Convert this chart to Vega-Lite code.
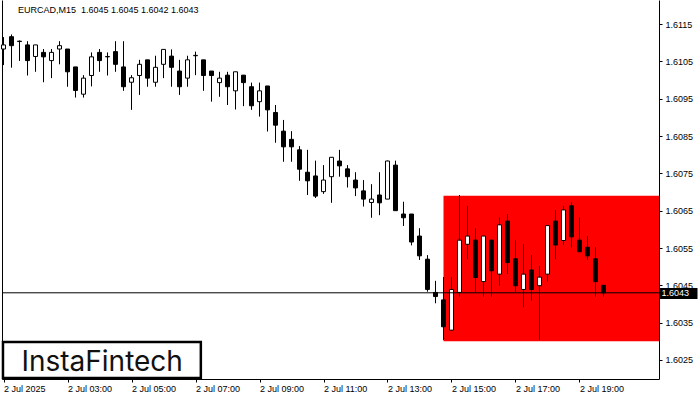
{
  "$schema": "https://vega.github.io/schema/vega-lite/v6.json",
  "width": 657,
  "height": 379,
  "autosize": {"type": "none"},
  "padding": {"left": 2, "top": 0, "right": 41, "bottom": 21},
  "background": "white",
  "config": {"view": {"stroke": null}, "font": "Liberation Sans", "scale": {"continuousPadding": 0}},
  "title": {
    "text": "EURCAD,M15 \u00a01.6045 1.6045 1.6042 1.6043",
    "anchor": "start",
    "frame": "group",
    "orient": "top",
    "offset": -15,
    "dx": 16,
    "fontSize": 9,
    "fontWeight": "normal",
    "font": "Liberation Sans",
    "color": "black"
  },
  "datasets": {
    "candles": [
      {"t": "2025-07-02T01:00", "o": 1.61083, "h": 1.61115, "l": 1.61040, "c": 1.61094},
      {"t": "2025-07-02T01:15", "o": 1.61116, "h": 1.61122, "l": 1.61033, "c": 1.61092},
      {"t": "2025-07-02T01:30", "o": 1.61104, "h": 1.61106, "l": 1.61051, "c": 1.61103},
      {"t": "2025-07-02T01:45", "o": 1.61094, "h": 1.61104, "l": 1.61012, "c": 1.61052},
      {"t": "2025-07-02T02:00", "o": 1.61063, "h": 1.61094, "l": 1.61022, "c": 1.61094},
      {"t": "2025-07-02T02:15", "o": 1.61074, "h": 1.61083, "l": 1.60994, "c": 1.61062},
      {"t": "2025-07-02T02:30", "o": 1.61052, "h": 1.61083, "l": 1.61005, "c": 1.61074},
      {"t": "2025-07-02T02:45", "o": 1.61083, "h": 1.61104, "l": 1.61042, "c": 1.61092},
      {"t": "2025-07-02T03:00", "o": 1.61083, "h": 1.61083, "l": 1.60982, "c": 1.61022},
      {"t": "2025-07-02T03:15", "o": 1.61035, "h": 1.61035, "l": 1.60953, "c": 1.60972},
      {"t": "2025-07-02T03:30", "o": 1.60962, "h": 1.61013, "l": 1.60953, "c": 1.61005},
      {"t": "2025-07-02T03:45", "o": 1.61012, "h": 1.61074, "l": 1.60983, "c": 1.61062},
      {"t": "2025-07-02T04:00", "o": 1.61074, "h": 1.61083, "l": 1.61022, "c": 1.61052},
      {"t": "2025-07-02T04:15", "o": 1.61062, "h": 1.61074, "l": 1.61012, "c": 1.61063},
      {"t": "2025-07-02T04:30", "o": 1.61076, "h": 1.61104, "l": 1.61022, "c": 1.61042},
      {"t": "2025-07-02T04:45", "o": 1.61035, "h": 1.61104, "l": 1.60971, "c": 1.60982},
      {"t": "2025-07-02T05:00", "o": 1.60994, "h": 1.61013, "l": 1.60920, "c": 1.61006},
      {"t": "2025-07-02T05:15", "o": 1.61012, "h": 1.61054, "l": 1.60960, "c": 1.61042},
      {"t": "2025-07-02T05:30", "o": 1.61054, "h": 1.61054, "l": 1.60982, "c": 1.61005},
      {"t": "2025-07-02T05:45", "o": 1.60994, "h": 1.61065, "l": 1.60982, "c": 1.61034},
      {"t": "2025-07-02T06:00", "o": 1.61042, "h": 1.61082, "l": 1.61005, "c": 1.61082},
      {"t": "2025-07-02T06:15", "o": 1.61064, "h": 1.61082, "l": 1.60982, "c": 1.61034},
      {"t": "2025-07-02T06:30", "o": 1.61024, "h": 1.61054, "l": 1.60960, "c": 1.60982},
      {"t": "2025-07-02T06:45", "o": 1.61005, "h": 1.61065, "l": 1.60982, "c": 1.61054},
      {"t": "2025-07-02T07:00", "o": 1.61065, "h": 1.61076, "l": 1.61013, "c": 1.61066},
      {"t": "2025-07-02T07:15", "o": 1.61054, "h": 1.61054, "l": 1.60971, "c": 1.61012},
      {"t": "2025-07-02T07:30", "o": 1.61024, "h": 1.61024, "l": 1.60942, "c": 1.61012},
      {"t": "2025-07-02T07:45", "o": 1.60993, "h": 1.61022, "l": 1.60955, "c": 1.61005},
      {"t": "2025-07-02T08:00", "o": 1.61013, "h": 1.61022, "l": 1.60933, "c": 1.60982},
      {"t": "2025-07-02T08:15", "o": 1.60971, "h": 1.61022, "l": 1.60921, "c": 1.61022},
      {"t": "2025-07-02T08:30", "o": 1.61013, "h": 1.61013, "l": 1.60930, "c": 1.60993},
      {"t": "2025-07-02T08:45", "o": 1.60982, "h": 1.60993, "l": 1.60920, "c": 1.60931},
      {"t": "2025-07-02T09:00", "o": 1.60942, "h": 1.60993, "l": 1.60902, "c": 1.60971},
      {"t": "2025-07-02T09:15", "o": 1.60984, "h": 1.60984, "l": 1.60862, "c": 1.60920},
      {"t": "2025-07-02T09:30", "o": 1.60913, "h": 1.60933, "l": 1.60832, "c": 1.60879},
      {"t": "2025-07-02T09:45", "o": 1.60863, "h": 1.60893, "l": 1.60781, "c": 1.60821},
      {"t": "2025-07-02T10:00", "o": 1.60841, "h": 1.60863, "l": 1.60781, "c": 1.60821},
      {"t": "2025-07-02T10:15", "o": 1.60813, "h": 1.60823, "l": 1.60730, "c": 1.60761},
      {"t": "2025-07-02T10:30", "o": 1.60753, "h": 1.60813, "l": 1.60692, "c": 1.60730},
      {"t": "2025-07-02T10:45", "o": 1.60743, "h": 1.60784, "l": 1.60684, "c": 1.60689},
      {"t": "2025-07-02T11:00", "o": 1.60701, "h": 1.60772, "l": 1.60695, "c": 1.60732},
      {"t": "2025-07-02T11:15", "o": 1.60741, "h": 1.60793, "l": 1.60671, "c": 1.60793},
      {"t": "2025-07-02T11:30", "o": 1.60783, "h": 1.60813, "l": 1.60741, "c": 1.60770},
      {"t": "2025-07-02T11:45", "o": 1.60762, "h": 1.60772, "l": 1.60712, "c": 1.60741},
      {"t": "2025-07-02T12:00", "o": 1.60732, "h": 1.60753, "l": 1.60689, "c": 1.60711},
      {"t": "2025-07-02T12:15", "o": 1.60703, "h": 1.60732, "l": 1.60661, "c": 1.60681},
      {"t": "2025-07-02T12:30", "o": 1.60672, "h": 1.60721, "l": 1.60631, "c": 1.60681},
      {"t": "2025-07-02T12:45", "o": 1.60692, "h": 1.60753, "l": 1.60638, "c": 1.60671},
      {"t": "2025-07-02T13:00", "o": 1.60681, "h": 1.60784, "l": 1.60681, "c": 1.60783},
      {"t": "2025-07-02T13:15", "o": 1.60772, "h": 1.60784, "l": 1.60650, "c": 1.60650},
      {"t": "2025-07-02T13:30", "o": 1.60641, "h": 1.60674, "l": 1.60609, "c": 1.60631},
      {"t": "2025-07-02T13:45", "o": 1.60641, "h": 1.60641, "l": 1.60557, "c": 1.60566},
      {"t": "2025-07-02T14:00", "o": 1.60582, "h": 1.60603, "l": 1.60518, "c": 1.60529},
      {"t": "2025-07-02T14:15", "o": 1.60520, "h": 1.60531, "l": 1.60433, "c": 1.60439},
      {"t": "2025-07-02T14:30", "o": 1.60431, "h": 1.60462, "l": 1.60402, "c": 1.60420},
      {"t": "2025-07-02T14:45", "o": 1.60411, "h": 1.60472, "l": 1.60304, "c": 1.60339},
      {"t": "2025-07-02T15:00", "o": 1.60330, "h": 1.60472, "l": 1.60330, "c": 1.60439},
      {"t": "2025-07-02T15:15", "o": 1.60431, "h": 1.60692, "l": 1.60420, "c": 1.60571},
      {"t": "2025-07-02T15:30", "o": 1.60560, "h": 1.60663, "l": 1.60520, "c": 1.60582},
      {"t": "2025-07-02T15:45", "o": 1.60571, "h": 1.60603, "l": 1.60431, "c": 1.60471},
      {"t": "2025-07-02T16:00", "o": 1.60460, "h": 1.60582, "l": 1.60420, "c": 1.60582},
      {"t": "2025-07-02T16:15", "o": 1.60571, "h": 1.60571, "l": 1.60420, "c": 1.60489},
      {"t": "2025-07-02T16:30", "o": 1.60480, "h": 1.60632, "l": 1.60449, "c": 1.60612},
      {"t": "2025-07-02T16:45", "o": 1.60622, "h": 1.60641, "l": 1.60480, "c": 1.60511},
      {"t": "2025-07-02T17:00", "o": 1.60521, "h": 1.60571, "l": 1.60431, "c": 1.60449},
      {"t": "2025-07-02T17:15", "o": 1.60439, "h": 1.60561, "l": 1.60391, "c": 1.60480},
      {"t": "2025-07-02T17:30", "o": 1.60491, "h": 1.60531, "l": 1.60409, "c": 1.60439},
      {"t": "2025-07-02T17:45", "o": 1.60449, "h": 1.60502, "l": 1.60304, "c": 1.60472},
      {"t": "2025-07-02T18:00", "o": 1.60480, "h": 1.60610, "l": 1.60460, "c": 1.60610},
      {"t": "2025-07-02T18:15", "o": 1.60622, "h": 1.60652, "l": 1.60520, "c": 1.60558},
      {"t": "2025-07-02T18:30", "o": 1.60570, "h": 1.60663, "l": 1.60558, "c": 1.60652},
      {"t": "2025-07-02T18:45", "o": 1.60663, "h": 1.60673, "l": 1.60551, "c": 1.60580},
      {"t": "2025-07-02T19:00", "o": 1.60571, "h": 1.60632, "l": 1.60540, "c": 1.60540},
      {"t": "2025-07-02T19:15", "o": 1.60552, "h": 1.60582, "l": 1.60518, "c": 1.60529},
      {"t": "2025-07-02T19:30", "o": 1.60521, "h": 1.60552, "l": 1.60420, "c": 1.60460},
      {"t": "2025-07-02T19:45", "o": 1.60450, "h": 1.60450, "l": 1.60420, "c": 1.60430}
    ],
    "zone": [{"start": "2025-07-02T14:45", "end": "2025-07-02T23:00", "high": 1.6069, "low": 1.6030}],
    "bid": [{"price": 1.6043}],
    "logo": [{"name": "InstaFintech"}]
  },
  "layer": [
    {
      "data": {"name": "zone"},
      "mark": {"type": "rect", "color": "#ff0000", "clip": true},
      "encoding": {
        "x": {"field": "start", "type": "temporal",
          "scale": {"nice": false, "padding": 0, "domain": [{"year": 2025, "month": 7, "date": 2, "hours": 0, "minutes": 57, "seconds": 11}, {"year": 2025, "month": 7, "date": 2, "hours": 21, "minutes": 29, "seconds": 4}]},
          "axis": {
            "orient": "bottom", "title": null, "grid": false,
            "values": [
              {"year": 2025, "month": 7, "date": 2, "hours": 1},
              {"year": 2025, "month": 7, "date": 2, "hours": 3},
              {"year": 2025, "month": 7, "date": 2, "hours": 5},
              {"year": 2025, "month": 7, "date": 2, "hours": 7},
              {"year": 2025, "month": 7, "date": 2, "hours": 9},
              {"year": 2025, "month": 7, "date": 2, "hours": 11},
              {"year": 2025, "month": 7, "date": 2, "hours": 13},
              {"year": 2025, "month": 7, "date": 2, "hours": 15},
              {"year": 2025, "month": 7, "date": 2, "hours": 17},
              {"year": 2025, "month": 7, "date": 2, "hours": 19}
            ],
            "labelExpr": "hours(datum.value) == 1 ? '2 Jul 2025' : timeFormat(datum.value, '%-d %b %H:%M')",
            "labelAlign": "left", "labelBaseline": "top", "labelPadding": 2, "tickSize": 3,
            "labelFontSize": 9, "labelFont": "Liberation Sans", "labelColor": "black",
            "domainColor": "black", "tickColor": "black", "domainWidth": 1, "tickWidth": 1,
            "labelOverlap": false, "labelBound": false, "labelFlush": false
          }
        },
        "x2": {"field": "end"},
        "y": {"field": "high", "type": "quantitative",
          "scale": {"domain": [1.601991, 1.612143], "nice": false, "zero": false},
          "axis": {"orient": "left", "labels": false, "ticks": false, "domain": true, "domainColor": "black", "grid": false, "title": null}
        },
        "y2": {"field": "low"}
      }
    },
    {
      "data": {"name": "candles"},
      "mark": {"type": "rule", "color": "black", "strokeWidth": 1},
      "encoding": {
        "x": {"field": "t", "type": "temporal",
          "scale": {"nice": false, "padding": 0, "domain": [{"year": 2025, "month": 7, "date": 2, "hours": 0, "minutes": 57, "seconds": 11}, {"year": 2025, "month": 7, "date": 2, "hours": 21, "minutes": 29, "seconds": 4}]}},
        "y": {"field": "l", "type": "quantitative",
          "scale": {"domain": [1.601991, 1.612143], "nice": false, "zero": false},
          "axis": {
            "orient": "right", "title": null, "grid": false,
            "values": [1.6025, 1.6035, 1.6045, 1.6055, 1.6065, 1.6075, 1.6085, 1.6095, 1.6105, 1.6115],
            "format": ".4f", "labelAlign": "left", "labelBaseline": "middle",
            "tickSize": 3, "labelPadding": 3, "labelFontSize": 9, "labelFont": "Liberation Sans",
            "labelColor": "black", "domainColor": "black", "tickColor": "black",
            "labelOverlap": false, "labelBound": false, "labelFlush": false
          }
        },
        "y2": {"field": "h"}
      }
    },
    {
      "data": {"name": "candles"},
      "mark": {"type": "bar", "size": 4, "stroke": "black", "strokeWidth": 1},
      "encoding": {
        "x": {"field": "t", "type": "temporal",
          "scale": {"nice": false, "padding": 0, "domain": [{"year": 2025, "month": 7, "date": 2, "hours": 0, "minutes": 57, "seconds": 11}, {"year": 2025, "month": 7, "date": 2, "hours": 21, "minutes": 29, "seconds": 4}]}},
        "y": {"field": "o", "type": "quantitative",
          "scale": {"domain": [1.601991, 1.612143], "nice": false, "zero": false}, "axis": null},
        "y2": {"field": "c"},
        "fill": {"condition": {"test": "datum.c >= datum.o", "value": "white"}, "value": "black"}
      }
    },
    {
      "data": {"name": "bid"},
      "mark": {"type": "rule", "color": "black", "strokeWidth": 1},
      "encoding": {
        "y": {"field": "price", "type": "quantitative",
          "scale": {"domain": [1.601991, 1.612143], "nice": false, "zero": false},
          "axis": {
            "orient": "right", "title": null, "grid": false, "domain": false,
            "values": [1.6043], "format": ".4f",
            "tickSize": 38, "tickWidth": 11, "tickColor": "black", "tickCap": "butt",
            "labelPadding": -36, "labelAlign": "left", "labelBaseline": "middle",
            "labelColor": "white", "labelFontSize": 9, "labelFont": "Liberation Sans",
            "labelOverlap": false, "labelBound": false, "labelFlush": false
          }
        }
      }
    },
    {
      "data": {"name": "logo"},
      "mark": {"type": "rect", "fill": "white", "stroke": "black", "strokeWidth": 2.5},
      "encoding": {
        "x": {"datum": {"year": 2025, "month": 7, "date": 2, "hours": 0, "minutes": 59}, "type": "temporal",
          "scale": {"nice": false, "padding": 0, "domain": [{"year": 2025, "month": 7, "date": 2, "hours": 0, "minutes": 57, "seconds": 11}, {"year": 2025, "month": 7, "date": 2, "hours": 21, "minutes": 29, "seconds": 4}]}},
        "x2": {"datum": {"year": 2025, "month": 7, "date": 2, "hours": 7, "minutes": 10}},
        "y": {"datum": 1.60298, "type": "quantitative",
          "scale": {"domain": [1.601991, 1.612143], "nice": false, "zero": false}, "axis": null},
        "y2": {"datum": 1.60202}
      }
    },
    {
      "data": {"name": "logo"},
      "mark": {"type": "text", "font": "Inter", "fontSize": 28, "fontWeight": 400, "color": "#111111", "align": "center", "baseline": "alphabetic"},
      "encoding": {
        "text": {"field": "name"},
        "x": {"datum": {"year": 2025, "month": 7, "date": 2, "hours": 4, "minutes": 5}, "type": "temporal",
          "scale": {"nice": false, "padding": 0, "domain": [{"year": 2025, "month": 7, "date": 2, "hours": 0, "minutes": 57, "seconds": 11}, {"year": 2025, "month": 7, "date": 2, "hours": 21, "minutes": 29, "seconds": 4}]}},
        "y": {"datum": 1.60221, "type": "quantitative",
          "scale": {"domain": [1.601991, 1.612143], "nice": false, "zero": false}, "axis": null}
      }
    }
  ],
  "resolve": {"axis": {"y": "independent"}}
}
